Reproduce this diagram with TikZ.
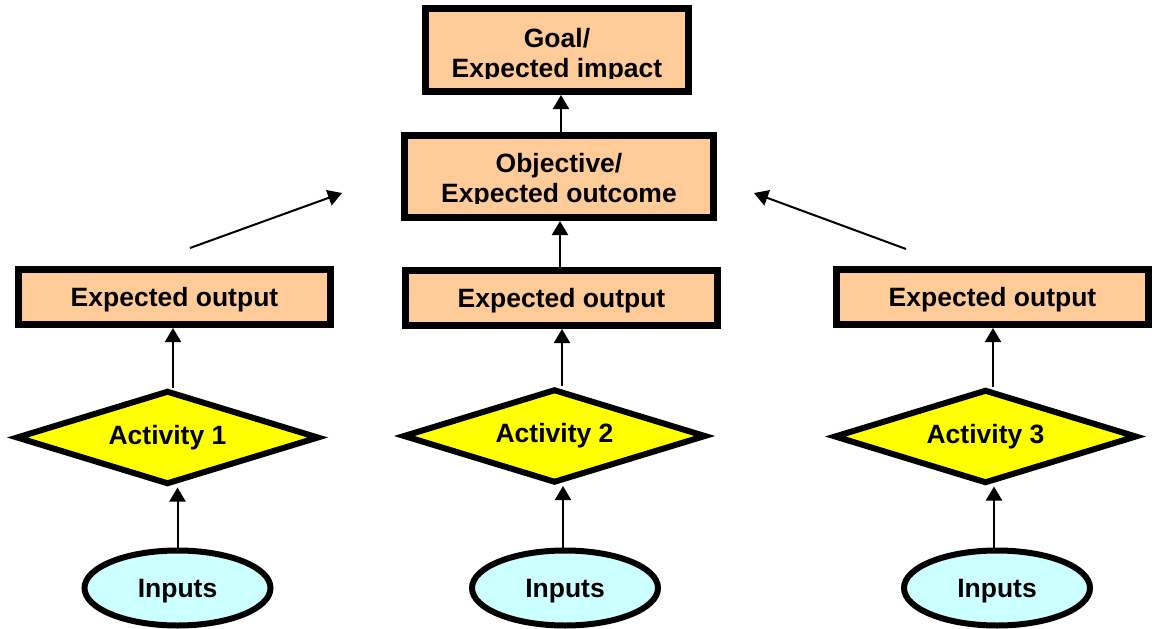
\documentclass[tikz,border=0pt]{standalone}
\usepackage{fontspec}
\setmainfont{Liberation Sans}
\usetikzlibrary{arrows.meta,shapes.geometric}
\definecolor{peach}{HTML}{FFCC99}
\definecolor{lemon}{HTML}{FFFF00}
\definecolor{icecyan}{HTML}{CCFFFF}

\begin{document}
\begin{tikzpicture}[x=1pt,y=-1pt,
  lbl/.style={font=\fontsize{26.5}{30}\selectfont\bfseries},
  box/.style={draw,fill=peach,line width=7pt,rectangle,inner sep=0pt},
  outbox/.style={box,minimum width=312pt,minimum height=55pt,lbl,text height=19pt,text depth=0pt},
  act/.style={diamond,aspect=3.2,draw,fill=lemon,line width=6pt,inner sep=0pt,minimum width=303pt,minimum height=94pt,lbl,text height=19pt,text depth=6pt},
  inp/.style={ellipse,draw,fill=icecyan,line width=6pt,inner sep=0pt,minimum width=186pt,minimum height=75pt,lbl,text height=19pt,text depth=0pt},
  arr/.style={-{Triangle[length=14pt,width=16pt]},line width=2pt},
  txt2/.style={lbl,align=center,inner sep=0pt}
]
\useasboundingbox (0,0) rectangle (1152,629);

% top two boxes, text clipped just below the last baseline
\node[box,minimum width=263pt,minimum height=83pt] (goal) at (557,50) {};
\node[box,minimum width=309pt,minimum height=82pt] (obj) at (559,176.5) {};
\begin{scope}
  \clip (goal.north west) rectangle (goal.east |- 0,78.5);
  \node[txt2] (goaltxt) at (557,55.2) {Goal/\\Expected impact};
\end{scope}
\begin{scope}
  \clip (obj.north west) rectangle (obj.east |- 0,203.5);
  \node[txt2] (objtxt) at (559,181) {Objective/\\Expected outcome};
\end{scope}

% outputs
\node[outbox] (out1) at (174.5,297) {Expected output};
\node[outbox] (out2) at (561.5,298) {Expected output};
\node[outbox] (out3) at (992.5,297) {Expected output};

% activities
\node[act] (act1) at (167.5,437.5) {Activity 1};
\node[act] (act2) at (554.5,436) {Activity 2};
\node[act] (act3) at (985.5,436.5) {Activity 3};

% inputs
\node[inp] (in1) at (177.5,588) {Inputs};
\node[inp] (in2) at (565,588) {Inputs};
\node[inp] (in3) at (997,588) {Inputs};

% vertical links
\draw[arr] ([xshift=2pt]obj.north) -- ([xshift=2pt]obj.north |- goal.south) ;
\draw[arr] ([xshift=-1.5pt]out2.north) -- ([xshift=-1.5pt]out2.north |- obj.south);
\draw[arr] ([xshift=7.5pt]act2.north) -- ([xshift=7.5pt]act2.north |- out2.south);
\draw[arr] ([xshift=-2pt]in2.north) -- ([xshift=-2pt]in2.north |- act2.south);

\draw[arr] ([xshift=5.5pt]act1.north) -- ([xshift=5.5pt]act1.north |- out1.south);
\draw[arr] (in1.north) -- (in1.north |- act1.south);

\draw[arr] ([xshift=7.5pt]act3.north) -- ([xshift=7.5pt]act3.north |- out3.south);
\draw[arr] ([xshift=-3pt]in3.north) -- ([xshift=-3pt]in3.north |- act3.south);

% side links toward the objective
\coordinate (ls) at (190,248);
\coordinate (le) at (342,193);
\coordinate (rs) at (906,249);
\coordinate (re) at (754,193);
\draw[arr] (ls) -- (le);
\draw[arr] (rs) -- (re);
\end{tikzpicture}
\end{document}
